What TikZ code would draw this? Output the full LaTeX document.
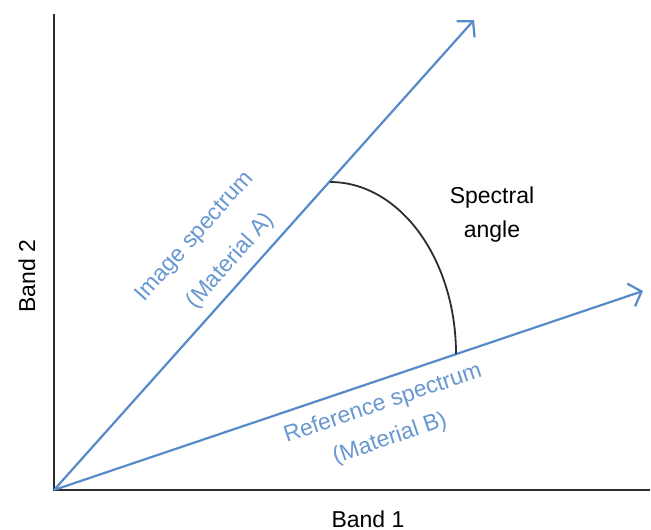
\documentclass[tikz,border=0pt]{standalone}
\usepackage{fontspec}
\setmainfont{Liberation Sans}
\usetikzlibrary{arrows.meta}
\definecolor{lineblue}{RGB}{86,138,200}
\definecolor{textblue}{RGB}{104,152,210}
\definecolor{axisgray}{RGB}{45,45,45}
\begin{document}
\begin{tikzpicture}[x=1pt,y=-1pt,
  axisline/.style={draw=axisgray,line width=2.6pt},
  vecline/.style={draw=lineblue,line width=2.2pt,-{Straight Barb[length=11pt,width=24pt,line width=2.2pt]}},
  bluelabel/.style={text=textblue,font=\fontsize{23}{27}\selectfont,inner sep=0pt},
  blacklabel/.style={text=black,font=\fontsize{23}{27}\selectfont,inner sep=0pt}]
\useasboundingbox (0,0) rectangle (651,530);
\fill[white] (0,0) rectangle (651,530);
\coordinate (O) at (54,490);
\coordinate (ytop) at (54,14);
\coordinate (xend) at (650,490);
\coordinate (TA) at (474,20);
\coordinate (TB) at (643,291);
\coordinate (arcA) at (330,182);
\draw[axisline] (ytop) -- (O) -- (xend);
\draw[vecline] (O) -- (TA);
\draw[vecline] (O) -- (TB);
\draw[draw=axisgray,line width=1.8pt] (arcA) arc[start angle=90,end angle=0,x radius=126pt,y radius=172pt];
\node[bluelabel,rotate=48.3] (imgA) at (195,237) {Image spectrum};
\node[bluelabel,rotate=48.3] (matA) at (231,261) {(Material A)};
\node[bluelabel,rotate=18.7] (refB) at (383,404) {Reference spectrum};
\node[bluelabel,rotate=18.7] (matB) at (390,439) {(Material B)};
\node[blacklabel,anchor=base] (spec) at (492,203) {Spectral};
\node[blacklabel,anchor=base] (ang) at (492,237) {angle};
\node[blacklabel,rotate=90,anchor=base] (band2) at (35,276) {Band 2};
\node[blacklabel,anchor=base] (band1) at (368,527) {Band 1};
\end{tikzpicture}
\end{document}
